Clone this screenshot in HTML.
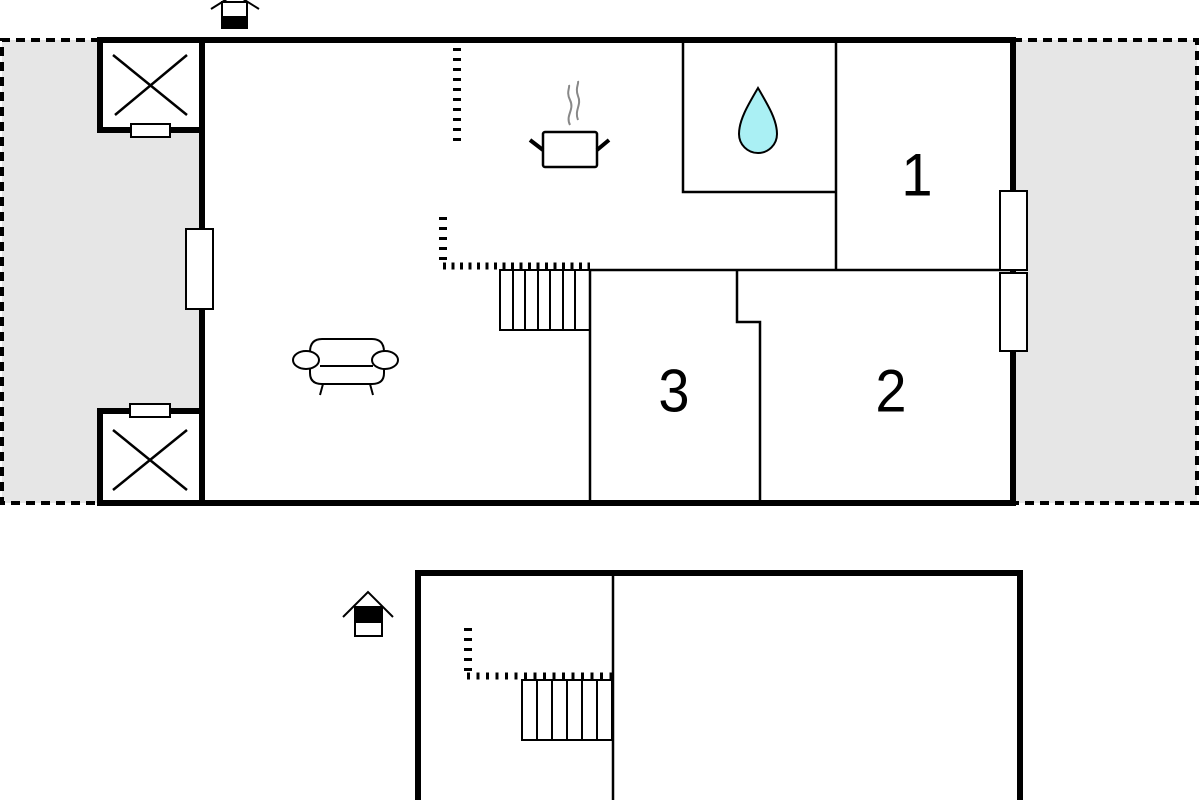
<!DOCTYPE html>
<html><head><style>body{margin:0;background:#fff}svg{display:block}</style></head><body>
<svg width="1200" height="800" viewBox="0 0 1200 800" xmlns="http://www.w3.org/2000/svg">
<rect x="2" y="40" width="200" height="463" fill="#e6e6e6"/>
<path d="M100 40 H2 V503 H100" fill="none" stroke="#000" stroke-width="4" stroke-dasharray="9,6"/>
<rect x="1013" y="40" width="184" height="463" fill="#e6e6e6"/>
<path d="M1013 40 H1197 V503 H1013" fill="none" stroke="#000" stroke-width="4" stroke-dasharray="9,6"/>
<rect x="202" y="40" width="811" height="463" fill="#fff"/>
<rect x="100" y="40" width="102" height="90" fill="#fff"/>
<rect x="100" y="411" width="102" height="92" fill="#fff"/>
<g fill="none" stroke="#000" stroke-width="6">
<path d="M100 130 V40 H1013 V503 H100 V411"/>
<path d="M97 130 H202 M97 411 H202 M202 40 V503"/>
</g>
<g stroke="#000" stroke-width="2.5" fill="none">
<path d="M113 55 L187 115 M187 55 L115 115"/>
<path d="M113 430 L187 490 M187 430 L113 490"/>
<path d="M683 40 V192 H836 M836 40 V270 M590 270 H1013 M590 270 V503 M737 270 V322 H760 V503"/>
</g>
<g fill="#fff" stroke="#000" stroke-width="2">
<rect x="186" y="229" width="27" height="80"/>
<rect x="131" y="124" width="39" height="13"/>
<rect x="130" y="404" width="40" height="13"/>
<rect x="1000" y="191" width="27" height="79"/>
<rect x="1000" y="273" width="27" height="78"/>
</g>
<g stroke="#000" fill="none">
<path d="M457 48 V142" stroke-width="8" stroke-dasharray="3,7"/>
<path d="M443 217 V262" stroke-width="8" stroke-dasharray="3,7"/>
<path d="M443 266 H590" stroke-width="7" stroke-dasharray="3,5.5"/>
</g>
<g stroke="#000" stroke-width="2" fill="none">
<rect x="500" y="270" width="90" height="60"/>
<path d="M513 270V330M525 270V330M538 270V330M550 270V330M563 270V330M575 270V330"/>
</g>
<g stroke="#000" stroke-width="2.5" fill="#fff">
<rect x="543" y="132" width="54" height="35" rx="2"/>
<path d="M543 150 L530 140 M597 150 L609 140" stroke-width="4"/>
</g>
<path d="M570 125 C565 115,575 110,570 100 C566 92,570 88,569 85 M578 120 C574 110,582 105,578 96 C575 88,579 84,578 81" stroke="#888" stroke-width="2" fill="none"/>
<path d="M758 88 C748 105,739 120,739 134 A19 19 0 0 0 777 134 C777 120,768 105,758 88 Z" fill="#aaf0f4" stroke="#000" stroke-width="2"/>
<g stroke="#000" stroke-width="2" fill="#fff">
<path d="M310 362 V352 Q310 339 322 339 H372 Q384 339 384 352 V362"/>
<path d="M310 362 V373 Q310 384 322 384 H372 Q384 384 384 373 V362"/>
<ellipse cx="306" cy="360" rx="13" ry="9"/>
<ellipse cx="385" cy="360" rx="13" ry="9"/>
<path d="M320 366 H373 M323 384 L320 395 M370 384 L373 395" fill="none"/>
</g>
<g font-family="Liberation Sans, sans-serif" font-size="56" text-anchor="middle" fill="#000" transform="scale(1,1.08)">
<text x="917" y="181">1</text>
<text x="674" y="381">3</text>
<text x="891" y="381">2</text>
</g>
<g stroke="#000" stroke-width="2" fill="#fff">
<path d="M211 9 L235 -6 L259 9" fill="none"/>
<rect x="222" y="2" width="25" height="26"/>
<rect x="222" y="17" width="25" height="11" fill="#000"/>
<path d="M343 617 L368 592 L393 617" fill="none"/>
<rect x="355" y="607" width="27" height="29"/>
<rect x="355" y="607" width="27" height="15" fill="#000"/>
</g>
<g fill="none" stroke="#000">
<path d="M418 803 V573 H1020 V803" stroke-width="6"/>
<path d="M613 573 V800" stroke-width="2.5"/>
<path d="M468 628 V672" stroke-width="8" stroke-dasharray="3,7"/>
<path d="M467 676 H612" stroke-width="7" stroke-dasharray="3,6.5"/>
<rect x="522" y="680" width="90" height="60" stroke-width="2"/>
<path d="M537 680V740M552 680V740M567 680V740M582 680V740M597 680V740" stroke-width="2"/>
</g>
</svg>
</body></html>
